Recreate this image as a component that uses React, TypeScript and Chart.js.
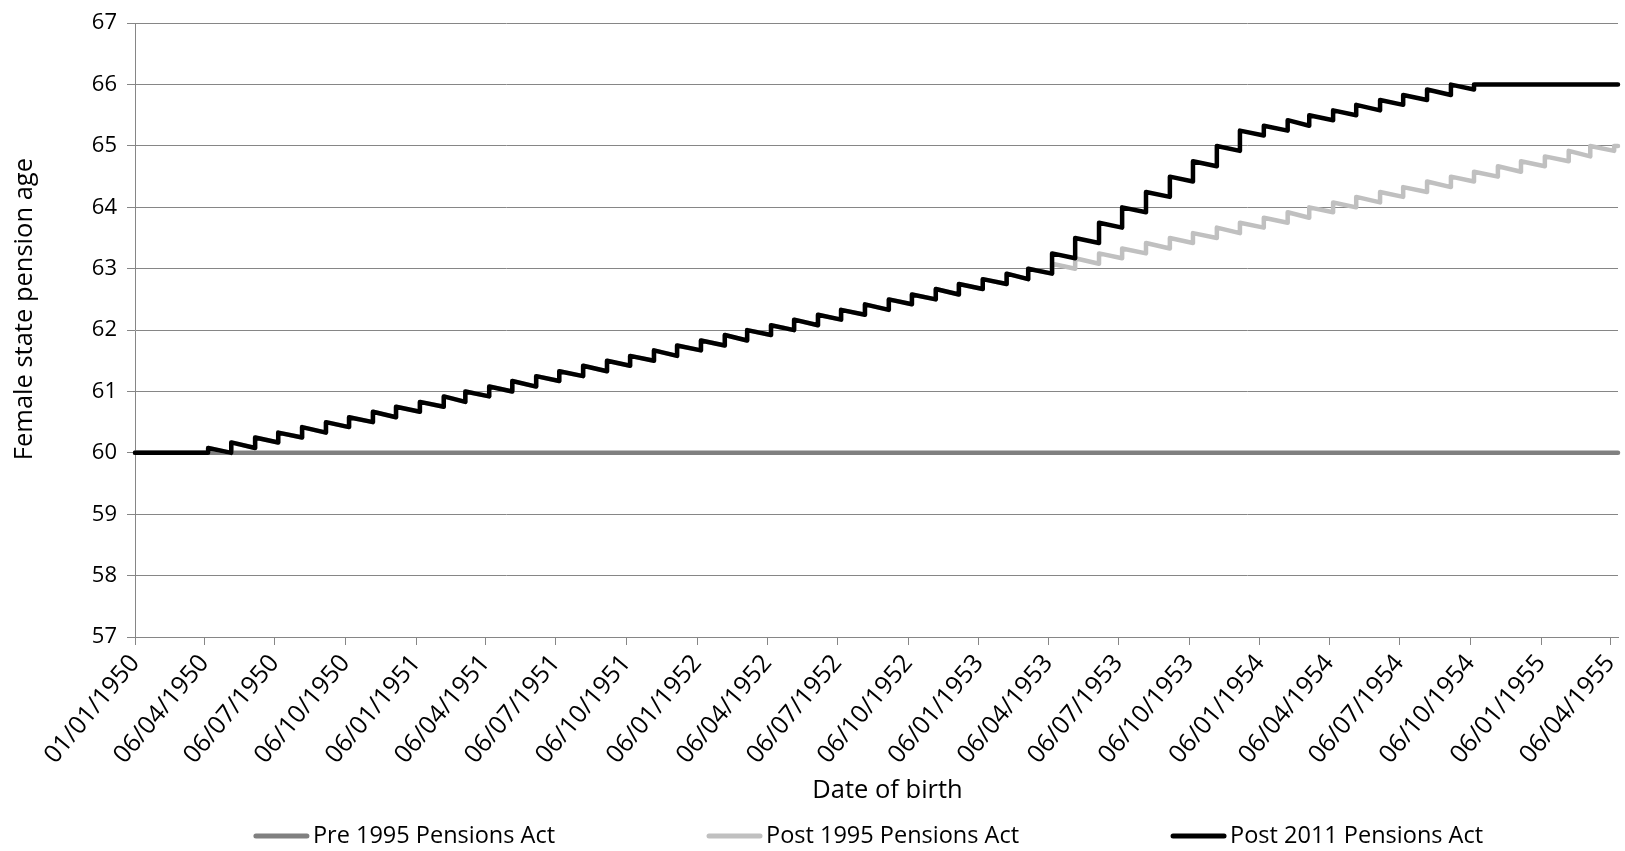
import React, { useEffect, useRef } from "react";
import { Chart, registerables } from "chart.js";
Chart.register(...registerables);

// ---------- DATA ----------
const seriesNames = ["Pre 1995 Pensions Act", "Post 1995 Pensions Act", "Post 2011 Pensions Act"];
const seriesColors = ["#808080", "#c0c0c0", "#000000"];

// where the date axis puts its tick marks, and the text printed under each
const tickDates = [
  "01/01/1950", "01/04/1950", "01/07/1950", "01/10/1950",
  "01/01/1951", "01/04/1951", "01/07/1951", "01/10/1951",
  "01/01/1952", "01/04/1952", "01/07/1952", "01/10/1952",
  "01/01/1953", "01/04/1953", "01/07/1953", "01/10/1953",
  "01/01/1954", "01/04/1954", "01/07/1954", "01/10/1954",
  "01/01/1955", "01/04/1955",
];
const tickLabels = [
  "01/01/1950", "06/04/1950", "06/07/1950", "06/10/1950",
  "06/01/1951", "06/04/1951", "06/07/1951", "06/10/1951",
  "06/01/1952", "06/04/1952", "06/07/1952", "06/10/1952",
  "06/01/1953", "06/04/1953", "06/07/1953", "06/10/1953",
  "06/01/1954", "06/04/1954", "06/07/1954", "06/10/1954",
  "06/01/1955", "06/04/1955",
];
const axisStartDate = "01/01/1950";
const axisEndDate = "11/04/1955";

// monthly birth cohorts (each runs from its date to the next one)
const cohortStarts = [
  "06/04/1950", "06/05/1950", "06/06/1950", "06/07/1950", "06/08/1950", "06/09/1950",
  "06/10/1950", "06/11/1950", "06/12/1950", "06/01/1951", "06/02/1951", "06/03/1951",
  "06/04/1951", "06/05/1951", "06/06/1951", "06/07/1951", "06/08/1951", "06/09/1951",
  "06/10/1951", "06/11/1951", "06/12/1951", "06/01/1952", "06/02/1952", "06/03/1952",
  "06/04/1952", "06/05/1952", "06/06/1952", "06/07/1952", "06/08/1952", "06/09/1952",
  "06/10/1952", "06/11/1952", "06/12/1952", "06/01/1953", "06/02/1953", "06/03/1953",
  "06/04/1953", "06/05/1953", "06/06/1953", "06/07/1953", "06/08/1953", "06/09/1953",
  "06/10/1953", "06/11/1953", "06/12/1953", "06/01/1954", "06/02/1954", "06/03/1954",
  "06/04/1954", "06/05/1954", "06/06/1954", "06/07/1954", "06/08/1954", "06/09/1954",
  "06/10/1954", "06/11/1954", "06/12/1954", "06/01/1955", "06/02/1955", "06/03/1955",
  "06/04/1955",
];

const ageBeforeCohorts = 60;
const pre1995Ages = [60, 60];

// pension age at the first / last birth date of each cohort
const post1995First = [
  60.08, 60.17, 60.25, 60.33, 60.42, 60.5, 60.58, 60.67, 60.75, 60.83, 60.92, 61,
  61.08, 61.17, 61.25, 61.33, 61.42, 61.5, 61.58, 61.67, 61.75, 61.83, 61.92, 62,
  62.08, 62.17, 62.25, 62.33, 62.42, 62.5, 62.58, 62.67, 62.75, 62.83, 62.92, 63,
  63.08, 63.17, 63.25, 63.33, 63.42, 63.5, 63.58, 63.67, 63.75, 63.83, 63.92, 64,
  64.08, 64.17, 64.25, 64.33, 64.42, 64.5, 64.58, 64.67, 64.75, 64.83, 64.92, 65,
];
const post1995Last = [
  60, 60.08, 60.17, 60.25, 60.33, 60.42, 60.5, 60.58, 60.67, 60.75, 60.83, 60.92,
  61, 61.08, 61.17, 61.25, 61.33, 61.42, 61.5, 61.58, 61.67, 61.75, 61.83, 61.92,
  62, 62.08, 62.17, 62.25, 62.33, 62.42, 62.5, 62.58, 62.67, 62.75, 62.83, 62.92,
  63, 63.08, 63.17, 63.25, 63.33, 63.42, 63.5, 63.58, 63.67, 63.75, 63.83, 63.92,
  64, 64.08, 64.17, 64.25, 64.33, 64.42, 64.5, 64.58, 64.67, 64.75, 64.83, 64.92,
];
const post1995After = 65;

const post2011First = [
  60.08, 60.17, 60.25, 60.33, 60.42, 60.5, 60.58, 60.67, 60.75, 60.83, 60.92, 61,
  61.08, 61.17, 61.25, 61.33, 61.42, 61.5, 61.58, 61.67, 61.75, 61.83, 61.92, 62,
  62.08, 62.17, 62.25, 62.33, 62.42, 62.5, 62.58, 62.67, 62.75, 62.83, 62.92, 63,
  63.25, 63.5, 63.75, 64, 64.25, 64.5, 64.75, 65, 65.25, 65.33, 65.42, 65.5,
  65.58, 65.67, 65.75, 65.83, 65.92, 66, 66, 66, 66, 66, 66, 66,
];
const post2011Last = [
  60, 60.08, 60.17, 60.25, 60.33, 60.42, 60.5, 60.58, 60.67, 60.75, 60.83, 60.92,
  61, 61.08, 61.17, 61.25, 61.33, 61.42, 61.5, 61.58, 61.67, 61.75, 61.83, 61.92,
  62, 62.08, 62.17, 62.25, 62.33, 62.42, 62.5, 62.58, 62.67, 62.75, 62.83, 62.92,
  63.17, 63.42, 63.67, 63.92, 64.17, 64.42, 64.67, 64.92, 65.17, 65.25, 65.33, 65.42,
  65.5, 65.58, 65.67, 65.75, 65.83, 65.92, 66, 66, 66, 66, 66, 66,
];
const post2011After = 66;

const yMin = 57;
const yMax = 67;

const xTitle = "Date of birth";
const yTitle = "Female state pension age";

// ---------- helpers ----------
function dayOf(s: string): number {
  const [d, m, y] = s.split("/").map(Number);
  return Date.UTC(y, m - 1, d) / 86400000;
}

function stepSeries(first: number[], last: number[], after: number) {
  const pts: { x: number; y: number }[] = [];
  pts.push({ x: dayOf(axisStartDate), y: ageBeforeCohorts });
  pts.push({ x: dayOf(cohortStarts[0]), y: ageBeforeCohorts });
  for (let i = 0; i < first.length; i++) {
    pts.push({ x: dayOf(cohortStarts[i]), y: first[i] });
    pts.push({ x: dayOf(cohortStarts[i + 1]), y: last[i] });
  }
  pts.push({ x: dayOf(cohortStarts[first.length]), y: after });
  pts.push({ x: dayOf(axisEndDate), y: after });
  return pts;
}

const FONT = "'Open Sans', 'Noto Sans', sans-serif";

export default function App() {
  const ref = useRef<HTMLCanvasElement | null>(null);

  useEffect(() => {
    const canvas = ref.current;
    if (!canvas) return;

    const overlay = {
      id: "overlay",
      afterDraw(chart: any) {
        const ctx = chart.ctx;
        const area = chart.chartArea;
        ctx.save();
        ctx.fillStyle = "#000";
        // axis titles
        ctx.font = `25.5px ${FONT}`;
        ctx.textAlign = "center";
        ctx.textBaseline = "middle";
        ctx.fillText(xTitle, (area.left + area.right) / 2 + 11, 791);
        ctx.save();
        ctx.translate(25, (area.top + area.bottom) / 2 - 21);
        ctx.rotate(-Math.PI / 2);
        ctx.fillText(yTitle, 0, 0);
        ctx.restore();

        // legend
        ctx.font = `23.5px ${FONT}`;
        const sw = 55;
        const swGap = 4;
        const gap = 152;
        const widths = seriesNames.map((n) => ctx.measureText(n).width);
        const total = widths.reduce((a, w) => a + sw + swGap + w, 0) + gap * (seriesNames.length - 1);
        let x = (area.left + area.right) / 2 - 8 - total / 2;
        const y = 836;
        ctx.textAlign = "left";
        ctx.textBaseline = "middle";
        seriesNames.forEach((n, i) => {
          ctx.strokeStyle = seriesColors[i];
          ctx.lineWidth = 5;
          ctx.lineCap = "round";
          ctx.beginPath();
          ctx.moveTo(x + 2, y);
          ctx.lineTo(x + sw - 2, y);
          ctx.stroke();
          ctx.fillStyle = "#000";
          ctx.fillText(n, x + sw + swGap, y);
          x += sw + swGap + widths[i] + gap;
        });
        ctx.restore();
      },
    };

    const seriesData = [
      [
        { x: dayOf(axisStartDate), y: pre1995Ages[0] },
        { x: dayOf(axisEndDate), y: pre1995Ages[1] },
      ],
      stepSeries(post1995First, post1995Last, post1995After),
      stepSeries(post2011First, post2011Last, post2011After),
    ];

    const chart = new Chart(canvas, {
      type: "line",
      data: {
        datasets: seriesNames.map((name, i) => ({
          label: name,
          data: seriesData[i],
          borderColor: seriesColors[i],
          backgroundColor: seriesColors[i],
          borderWidth: 4.5,
          pointRadius: 0,
          tension: 0,
          borderJoinStyle: "round" as const,
          borderCapStyle: "round" as const,
          order: 3 - i,
          clip: false as any,
        })),
      },
      options: {
        responsive: false,
        animation: false,
        layout: { padding: { top: 22, right: 7, bottom: 0, left: 0 } },
        plugins: { legend: { display: false }, tooltip: { enabled: false } },
        scales: {
          x: {
            type: "linear",
            min: dayOf(axisStartDate),
            max: dayOf(axisEndDate),
            afterBuildTicks: (axis: any) => {
              axis.ticks = tickDates.map((d) => ({ value: dayOf(d) }));
            },
            afterFit: (axis: any) => {
              axis.height = 851 - 637;
              axis.paddingLeft = 0;
              axis.paddingRight = 0;
            },
            ticks: {
              autoSkip: false,
              maxRotation: 50,
              minRotation: 50,
              padding: 4,
              color: "#000",
              font: { family: FONT, size: 25 },
              callback: (_v: any, idx: number) => tickLabels[idx],
            },
            grid: {
              drawOnChartArea: false,
              drawTicks: true,
              tickLength: 8,
              color: "#868686",
              lineWidth: 1,
            },
            border: { display: true, color: "#868686", width: 1 },
          },
          y: {
            type: "linear",
            min: yMin,
            max: yMax,
            afterFit: (axis: any) => {
              axis.width = 135;
            },
            ticks: {
              stepSize: 1,
              padding: 10,
              color: "#000",
              font: { family: FONT, size: 22 },
            },
            grid: {
              color: "#868686",
              lineWidth: 1,
              tickLength: 8,
            },
            border: { display: true, color: "#868686", width: 1 },
          },
        },
      },
      plugins: [overlay],
    } as any);

    return () => chart.destroy();
  }, []);

  return (
    <div style={{ position: "fixed", left: 0, top: 0, width: 1625, height: 851, background: "#fff" }}>
      <canvas ref={ref} width={1625} height={851} style={{ display: "block" }} />
    </div>
  );
}
